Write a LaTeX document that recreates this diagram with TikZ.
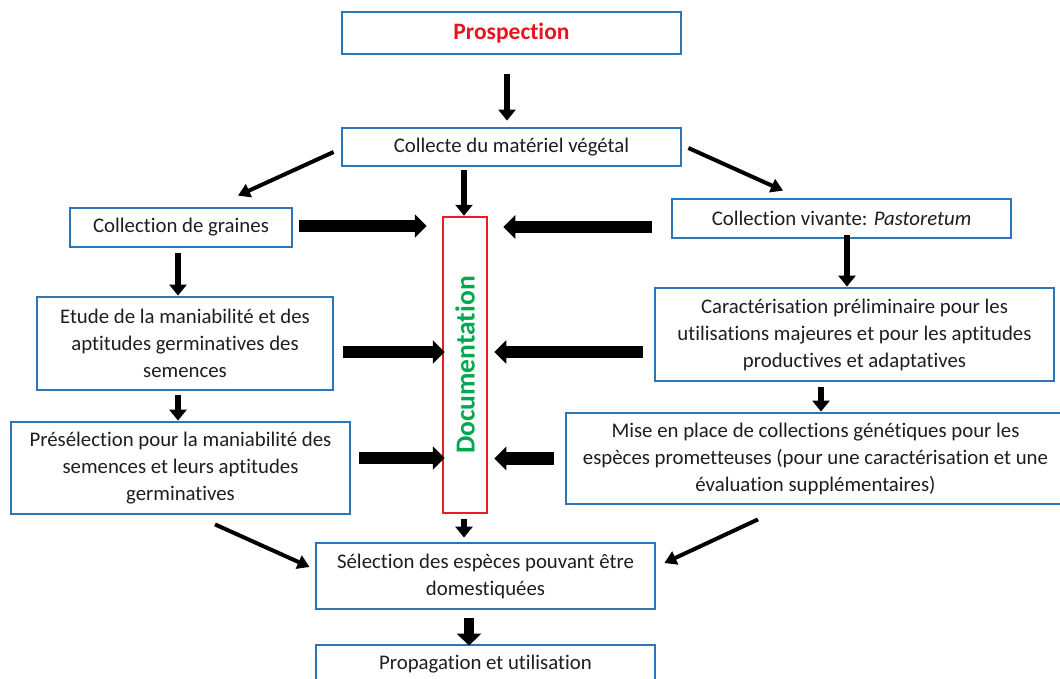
\documentclass[tikz,border=0pt]{standalone}
\usepackage{fontspec}
\setmainfont{Carlito}[Ligatures={NoCommon,NoContextual}]
\usetikzlibrary{arrows.meta,calc}

\definecolor{boxblue}{RGB}{46,117,182}
\definecolor{docred}{RGB}{232,30,36}
\definecolor{titlered}{RGB}{235,20,30}
\definecolor{docgreen}{RGB}{0,168,80}
\definecolor{textgray}{RGB}{30,30,30}

\tikzset{
  stepbox/.style={draw=boxblue, line width=2.8pt, rectangle, inner xsep=0pt,
    inner ysep=0pt, align=center, text=textgray,
    font=\fontsize{20.8}{27}\selectfont},
  docbox/.style={draw=docred, line width=2.5pt, rectangle, inner sep=0pt},
  thinarrow/.style={line width=4pt, -{Triangle[length=12pt,width=14pt]}},
  midarrow/.style={line width=5.5pt, -{Triangle[length=11pt,width=17pt]}},
  fatarrow/.style={line width=12.5pt, -{Triangle[length=12pt,width=23pt]}},
  hugearrow/.style={line width=10pt, -{Triangle[length=12pt,width=24pt]}},
}

\begin{document}
\begin{tikzpicture}[x=1pt,y=-1pt]
\clip (0,0) rectangle (1060,678);
\fill[white] (0,0) rectangle (1060,678);

% boxes
\node[stepbox, minimum width=339pt, minimum height=42pt,
      text=titlered, font=\fontsize{23.5}{28}\selectfont\bfseries]
      (pros) at (511.5,33) {Prospection};
\node[stepbox, minimum width=339pt, minimum height=38pt] (coll) at (511.5,147)
      {Collecte du matériel végétal};
\node[stepbox, minimum width=222pt, minimum height=39pt] (graines) at (181,227.5)
      {Collection de graines};
\node[stepbox, minimum width=296pt, minimum height=93pt] (etude) at (185,343.5)
      {Etude de la maniabilité et des\\aptitudes germinatives des\\semences};
\node[stepbox, minimum width=339pt, minimum height=92pt] (presel) at (180.5,468)
      {Présélection pour la maniabilité des\\semences et leurs aptitudes\\germinatives};
\node[docbox, minimum width=44pt, minimum height=296pt] (doc) at (465,365) {};
\node[rotate=90, text=docgreen, font=\fontsize{27.5}{30}\selectfont\bfseries]
      (doctext) at (doc.center) {Documentation};
\node[stepbox, minimum width=339pt, minimum height=39pt] (vivante) at (841.5,218.5)
      {Collection vivante: \textit{Pastoretum}};
\node[stepbox, minimum width=399pt, minimum height=93pt] (caract) at (854.5,334.5)
      {Caractérisation préliminaire pour les\\utilisations majeures et pour les aptitudes\\productives et adaptatives};
\node[stepbox, minimum width=499pt, minimum height=91pt] (mise) at (815.5,458.5)
      {Mise en place de collections génétiques pour les\\espèces prometteuses (pour une caractérisation et une\\évaluation supplémentaires)};
\node[stepbox, minimum width=339pt, minimum height=66pt] (sel) at (485.5,576)
      {Sélection des espèces pouvant être\\domestiquées};
\node[stepbox, minimum width=339pt, minimum height=38pt] (prop) at (485.5,664)
      {Propagation et utilisation};

% vertical flow
\draw[midarrow] ($(pros.south)+(-4.5,19)$) -- ($(pros.south |- coll.north)+(-4.5,-6)$);
\draw[midarrow] ($(doc.north |- coll.south)+(-1,3)$) -- ($(doc.north)+(-1,0)$);
\draw[midarrow] ($(graines.south)+(-3,5)$) -- ($(graines.south |- etude.north)+(-3,0)$);
\draw[midarrow] ($(etude.south)+(-7,4)$) -- ($(etude.south |- presel.north)+(-7,0)$);
\draw[midarrow] ($(vivante.south)+(5.5,-4)$) -- ($(vivante.south |- caract.north)+(5.5,0)$);
\draw[midarrow] ($(caract.south)+(-33.5,5)$) -- ($(caract.south |- mise.north)+(-33.5,0)$);
\draw[midarrow] ($(doc.south)+(-1,5)$) -- ($(doc.south |- sel.north)+(-1,-4)$);
\draw[hugearrow] ($(sel.south)+(-16.5,8)$) -- ($(sel.south |- prop.north)+(-16.5,2)$);

% diagonal branches
\draw[thinarrow] ($(coll.west)+(-7,5)$) -- ($(graines.north)+(57,-11)$);
\draw[thinarrow] ($(coll.east)+(6,1)$) -- ($(vivante.north)+(-58.5,-7)$);
\draw[thinarrow] ($(presel.south)+(34.5,9)$) -- ($(sel.west)+(-5,-9)$);
\draw[thinarrow] ($(mise.south)+(-57.5,14)$) -- ($(sel.east)+(8,-13)$);

% feeds into the documentation column
\draw[fatarrow] ($(graines.east)+(6,-1.5)$) -- ($(graines.east -| doc.west)+(-15,-1.5)$);
\draw[fatarrow] ($(etude.east)+(9,8.5)$) -- ($(etude.east -| doc.west)+(3,8.5)$);
\draw[fatarrow] ($(presel.east)+(8,-10)$) -- ($(presel.east -| doc.west)+(3,-10)$);
\draw[fatarrow] ($(vivante.west)+(-19,8.5)$) -- ($(vivante.west -| doc.east)+(15,8.5)$);
\draw[fatarrow] ($(caract.west)+(-11,17.5)$) -- ($(caract.west -| doc.east)+(6,17.5)$);
\draw[fatarrow] ($(mise.west)+(-11,0)$) -- ($(mise.west -| doc.east)+(6,0)$);
\end{tikzpicture}
\end{document}
